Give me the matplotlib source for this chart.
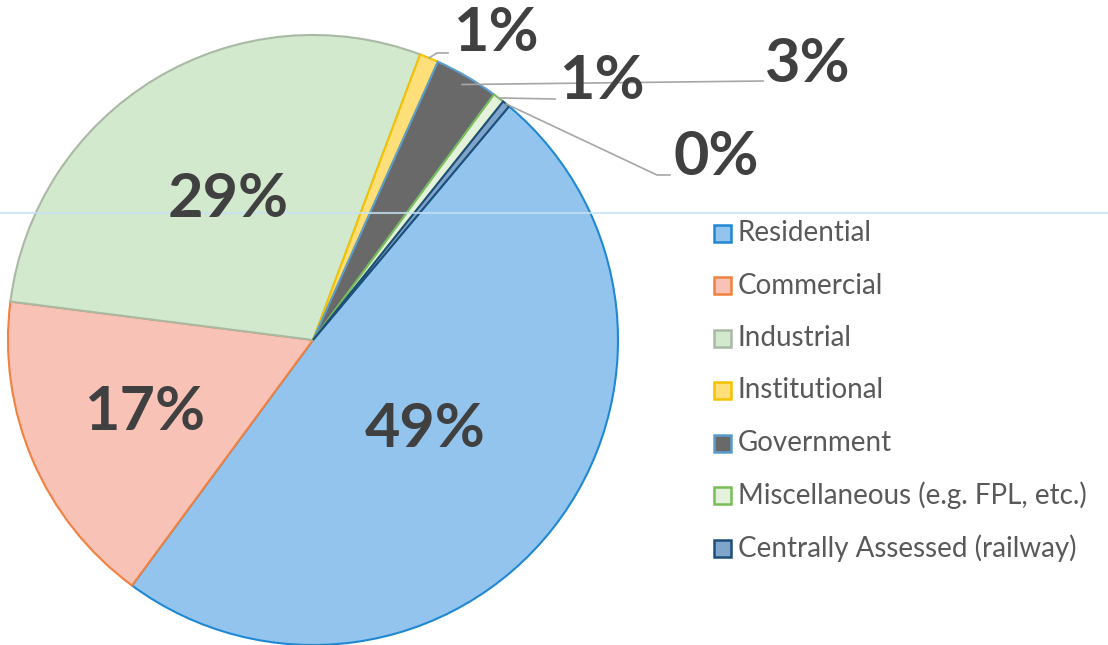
import numpy as np
import matplotlib.pyplot as plt
from matplotlib.patches import Rectangle

# Data
categories = ['Residential', 'Commercial', 'Industrial', 'Institutional',
              'Government', 'Miscellaneous (e.g. FPL, etc.)',
              'Centrally Assessed (railway)']
shares = [49.0, 16.9, 28.7, 1.0, 3.4, 0.6, 0.4]
pct_labels = ['49%', '17%', '29%', '1%', '3%', '1%', '0%']

fills = ['#93c4ee', '#f8c3b6', '#d3e9cd', '#ffdf7a', '#696969', '#e4f2dc', '#7fa5cb']
edges = ['#1f88d2', '#f0813f', '#a9b9a4', '#f3c200', '#5b9dcc', '#78bd55', '#1f4e79']

W, H = 1108, 645
fig = plt.figure(figsize=(W / 100, H / 100), dpi=100)
ax = fig.add_axes([0, 0, 1, 1])

cx, cy, R = 313, H - 340, 305
wedges, _ = ax.pie(shares, colors=fills, startangle=50, counterclock=False,
                   center=(cx, cy), radius=R, wedgeprops=dict(linewidth=1.5))
for w, e in zip(wedges, edges):
    w.set_edgecolor(e)
ax.set_xlim(0, W)
ax.set_ylim(0, H)
ax.set_aspect('equal')
ax.axis('off')

label_font = dict(family=['Lato', 'DejaVu Sans'], fontsize=44, fontweight='bold',
                  color='#404040', ha='center', va='center')

# big labels inside the wedges
inner_r = [0.47, 0.60, 0.54]
for i, frac in enumerate(inner_r):
    w = wedges[i]
    mid = np.deg2rad((w.theta1 + w.theta2) / 2)
    ax.text(cx + frac * R * np.cos(mid), cy + frac * R * np.sin(mid),
            pct_labels[i], **label_font)

# small slices: outside labels with leader lines (pixel layout, y from top)
outside_pos = {3: (496, 33), 4: (808, 64), 5: (602, 81), 6: (716, 157)}
leader_pts = {3: [(437, 53), (448, 53)],
              4: [(763, 81)],
              5: [(555, 99)],
              6: [(657, 175), (670, 175)]}
for i, (tx, ty) in outside_pos.items():
    w = wedges[i]
    mid = np.deg2rad((w.theta1 + w.theta2) / 2)
    r0 = 0.97 * R if i == 4 else R
    xs = [cx + r0 * np.cos(mid)] + [p[0] for p in leader_pts[i]]
    ys = [cy + r0 * np.sin(mid)] + [H - p[1] for p in leader_pts[i]]
    ax.plot(xs, ys, color='#a6a6a6', lw=1.2, zorder=3)
    ax.text(tx, H - ty, pct_labels[i], zorder=4, **label_font)

# legend drawn by hand
lx, ly0, step, sz = 722, 233, 52.5, 17
for i, name in enumerate(categories):
    y = H - (ly0 + i * step)
    ax.add_patch(Rectangle((lx - sz / 2, y - sz / 2), sz, sz,
                           facecolor=fills[i], edgecolor=edges[i], lw=1.8))
    ax.text(lx + 16, y, name, family=['Lato', 'DejaVu Sans'], fontsize=20,
            color='#595959', ha='left', va='center')

# faint scan line across the page
ax.axhline(H - 213, color='#c6e2f5', lw=1.5, alpha=0.8, zorder=2)

fig.savefig('out.png', dpi=100)
